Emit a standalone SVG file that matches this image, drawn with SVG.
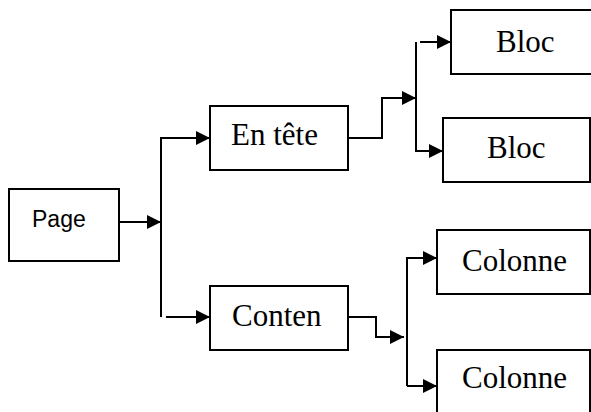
<svg xmlns="http://www.w3.org/2000/svg" width="591" height="412" viewBox="0 0 591 412">
<style>
.box{fill:#fff;stroke:#000;stroke-width:2}
.t{font-family:"Liberation Serif","Times New Roman",serif;font-size:31px;fill:#000}
.s{font-family:"Liberation Sans",Arial,sans-serif;font-size:23px;fill:#000}
.c{fill:none;stroke:#000;stroke-width:2}
</style>
<defs>
<marker id="arr" markerUnits="userSpaceOnUse" markerWidth="14" markerHeight="14" refX="14" refY="7" orient="auto">
<path d="M0,0 L14,7 L0,14 z" fill="#000"/>
</marker>
</defs>
<rect width="591" height="412" fill="#fff"/>
<g id="connectors">
<path class="c" d="M119,222 H161" marker-end="url(#arr)"/>
<path class="c" d="M161,317 V138 H210" marker-end="url(#arr)"/>
<path class="c" d="M166,317 H210" marker-end="url(#arr)"/>
<path class="c" d="M348,138 H382 V98 H416" marker-end="url(#arr)"/>
<path class="c" d="M416,42 V151 H443" marker-end="url(#arr)"/>
<path class="c" d="M420,42 H451" marker-end="url(#arr)"/>
<path class="c" d="M348,317 H376 V337 H404" marker-end="url(#arr)"/>
<path class="c" d="M407,386 V258 H437" marker-end="url(#arr)"/>
<path class="c" d="M407,386 H437" marker-end="url(#arr)"/>
</g>
<g id="page"><rect class="box" x="9" y="189" width="110" height="72"/><text class="s" x="32" y="227">Page</text></g>
<g id="entete"><rect class="box" x="210" y="106" width="138" height="64"/><text class="t" x="231" y="145">En tête</text></g>
<g id="conten"><rect class="box" x="210" y="286" width="138" height="64"/><text class="t" x="232" y="326">Conten</text></g>
<g id="bloc1"><rect class="box" x="451" y="10" width="150" height="64"/><text class="t" x="496" y="52">Bloc</text></g>
<g id="bloc2"><rect class="box" x="443" y="118" width="147" height="64"/><text class="t" x="487" y="158">Bloc</text></g>
<g id="colonne1"><rect class="box" x="437" y="230" width="153" height="64"/><text class="t" x="462" y="271">Colonne</text></g>
<g id="colonne2"><rect class="box" x="437" y="350" width="153" height="70"/><text class="t" x="462" y="388">Colonne</text></g>
</svg>
